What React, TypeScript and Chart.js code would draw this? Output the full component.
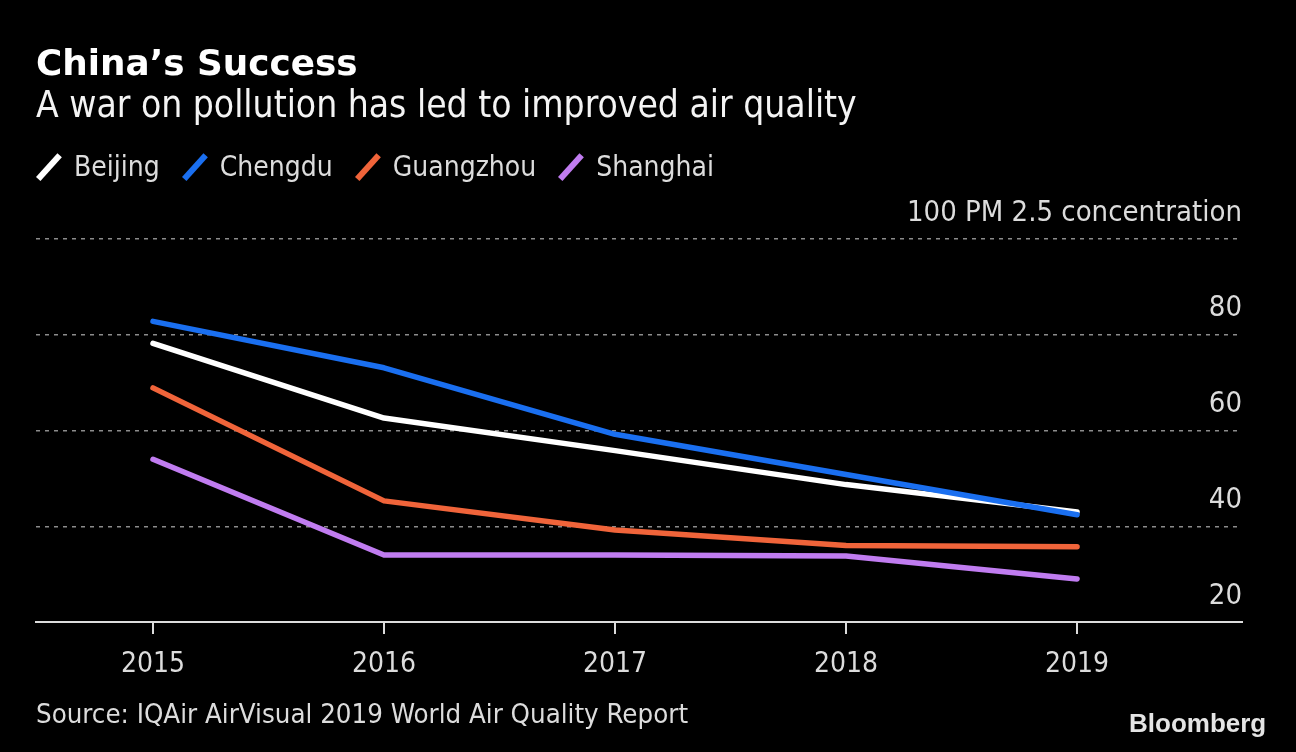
import React, { useEffect, useRef } from "react";
import { Chart, registerables } from "chart.js";

Chart.register(...registerables);

const years = [2015, 2016, 2017, 2018, 2019];
const beijing = [78.2, 62.6, 55.8, 48.7, 43.0];
const chengdu = [82.8, 73.1, 59.2, 50.8, 42.4];
const guangzhou = [68.9, 45.3, 39.2, 36.0, 35.7];
const shanghai = [54.0, 34.0, 34.0, 33.8, 29.0];
const yTicks = [20, 40, 60, 80, 100];
const yUnit = "PM 2.5 concentration";

const seriesNames = ["Beijing", "Chengdu", "Guangzhou", "Shanghai"];
const seriesColors = ["#ffffff", "#1a6ff0", "#f0643a", "#c07cf0"];

const FONT = "'DejaVu Sans Condensed', 'DejaVu Sans', sans-serif";
const LABEL = "#dcdcdc";

export default function App() {
  const canvasRef = useRef<HTMLCanvasElement | null>(null);

  useEffect(() => {
    document.body.style.margin = "0";
    document.body.style.background = "#000";
    const canvas = canvasRef.current;
    if (!canvas) return;
    const allSeries = [beijing, chengdu, guangzhou, shanghai];
    const chart = new Chart(canvas, {
      type: "line",
      data: {
        datasets: allSeries.map((s, i) => ({
          label: seriesNames[i],
          data: years.map((x, j) => ({ x, y: s[j] })),
          borderColor: seriesColors[i],
          backgroundColor: seriesColors[i],
          borderWidth: 5.5,
          pointRadius: 0,
          tension: 0,
          borderCapStyle: "round" as const,
          borderJoinStyle: "round" as const,
          order: i === 1 ? 0 : i + 1,
        })),
      },
      options: {
        animation: false,
        responsive: false,
        maintainAspectRatio: false,
        layout: { padding: { left: 36, right: 54, top: 239, bottom: 0 } },
        plugins: {
          legend: { display: false },
          title: { display: false },
          tooltip: { enabled: false },
        },
        scales: {
          x: {
            type: "linear",
            position: "bottom",
            min: 2014.4935,
            max: 2019.714,
            afterBuildTicks: (scale: any) => {
              scale.ticks = years.map((v) => ({ value: v }));
            },
            afterFit: (scale: any) => {
              scale.height = 130;
            },
            grid: {
              drawOnChartArea: false,
              drawTicks: true,
              tickLength: 12,
              color: LABEL,
              lineWidth: 2,
            },
            border: { display: true, color: LABEL, width: 2 },
            ticks: {
              autoSkip: false,
              maxRotation: 0,
              padding: 14,
              color: LABEL,
              font: { family: FONT, size: 28 },
              callback: (v: any) => String(v),
            },
          },
          y: {
            type: "linear",
            position: "right",
            min: 20,
            max: 100,
            afterBuildTicks: (scale: any) => {
              scale.ticks = yTicks.map((v) => ({ value: v }));
            },
            afterFit: (scale: any) => {
              scale.width = 0;
            },
            grid: {
              drawTicks: false,
              color: (ctx: any) =>
                ctx.tick && ctx.tick.value === 20 ? "rgba(0,0,0,0)" : "#8c8c8c",
              lineWidth: 1.5,
            },
            border: { display: false, dash: [4, 5] },
            ticks: {
              mirror: true,
              padding: 0,
              labelOffset: -26,
              color: LABEL,
              font: { family: FONT, size: 29 },
              callback: (v: any) => (v === 100 ? `${v} ${yUnit}` : String(v)),
            },
          },
        },
      },
    });
    return () => chart.destroy();
  }, []);

  const text = (extra: React.CSSProperties): React.CSSProperties => ({
    position: "absolute",
    fontFamily: FONT,
    lineHeight: 1,
    whiteSpace: "nowrap",
    ...extra,
  });

  return (
    <div
      style={{
        position: "fixed",
        left: 0,
        top: 0,
        width: 1296,
        height: 752,
        background: "#000",
        overflow: "hidden",
      }}
    >
      <canvas
        ref={canvasRef}
        width={1296}
        height={752}
        style={{ position: "absolute", left: 0, top: 0, width: 1296, height: 752 }}
      />
      <div
        style={text({
          left: 36,
          top: 45,
          fontSize: 35.8,
          fontWeight: "bold",
          color: "#fff",
          fontFamily: "'DejaVu Sans', sans-serif",
        })}
      >
        China’s Success
      </div>
      <div style={text({ left: 36, top: 87, fontSize: 36.9, color: "#f4f4f4" })}>
        A war on pollution has led to improved air quality
      </div>
      <div
        style={{
          position: "absolute",
          left: 36,
          top: 152,
          display: "flex",
          alignItems: "center",
          fontFamily: FONT,
          fontSize: 28,
          lineHeight: 1,
          color: LABEL,
          whiteSpace: "nowrap",
        }}
      >
        {seriesNames.map((n, i) => (
          <div key={n} style={{ display: "flex", alignItems: "center", marginRight: 22 }}>
            <div style={{ width: 26, height: 30, position: "relative", marginRight: 12 }}>
              <div
                style={{
                  position: "absolute",
                  left: 10,
                  top: -1,
                  width: 5.5,
                  height: 32,
                  background: seriesColors[i],
                  transform: "rotate(42deg)",
                }}
              />
            </div>
            <span>{n}</span>
          </div>
        ))}
      </div>
      <div style={text({ left: 36, top: 700, fontSize: 27.4, color: LABEL })}>
        Source: IQAir AirVisual 2019 World Air Quality Report
      </div>
      <div
        style={text({
          left: 1129,
          top: 710,
          fontSize: 26,
          fontWeight: "bold",
          letterSpacing: 0,
          fontFamily: "'Liberation Sans', Arial, sans-serif",
          color: "#e4e4e4",
        })}
      >
        Bloomberg
      </div>
    </div>
  );
}
